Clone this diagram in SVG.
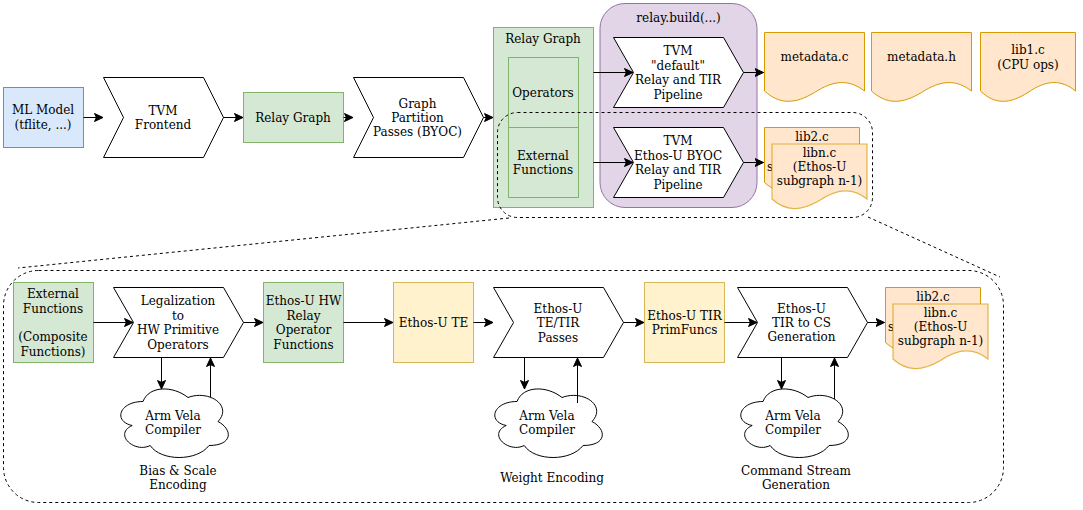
<svg xmlns="http://www.w3.org/2000/svg" xmlns:xlink="http://www.w3.org/1999/xlink" width="1083" height="510" viewBox="0 0 1083 510">
<style>
text{font-family:"DejaVu Serif",serif;font-size:12px;fill:#000;text-anchor:middle}
.g{fill:#d5e8d4;stroke:#82b366}
.b{fill:#dae8fc;stroke:#6c8ebf}
.y{fill:#fff2cc;stroke:#d6b656}
.p{fill:#e1d5e7;stroke:#9673a6}
.o{fill:#ffe6cc;stroke:#d79b00}
.o2{fill:#ffe6cc;stroke:#d79b00;stroke-opacity:.7;stroke-width:1.2}
.s{fill:#fff;stroke:#000}
.c{fill:#fff;stroke:#000}
.l{fill:none;stroke:#000;marker-end:url(#a)}
.d{fill:none;stroke:#000;stroke-dasharray:3 3}
</style>
<defs>
<marker id="a" markerUnits="userSpaceOnUse" markerWidth="11" markerHeight="11" refX="9" refY="4.500" orient="auto"><path d="M0.500 0.500L9 4.500L0.500 8.500L2.400 4.500Z" fill="#000" stroke="#000"/></marker>
<path id="cloud" d="M30 20C6 20 0 40 19.200 44C0 52.800 21.600 72 37.200 64C48 80 84 80 96 64C120 64 120 48 105 40C120 24 96 8 75 16C60 4 36 4 30 20Z"/>
<path id="doc100" d="M0 0H100V58.500C85 47 70 47 50 60C30 72 15 72 0 58.500Z"/>
<path id="doc95t" d="M0 0H95V58.500C81 47 66 47 47.500 60C28.500 72 14 72 0 58.500Z"/>
<path id="doc95" d="M0 0H95V55C81 43.500 66 43.500 47.500 56.500C28.500 67.500 14 67.500 0 55Z"/>
</defs>
<g id="zoom-outlines">
<rect class="d" x="3.500" y="270.500" width="1000" height="232" rx="35"/>
</g>
<g id="n-ml"><rect class="b" x="3.500" y="87.500" width="80" height="60"/><text x="43" y="114">ML Model</text><text x="43" y="128.500">(tflite, ...)</text></g>
<g id="n-frontend"><path class="s" d="M103.500 77.500H203.500L223.500 117.500L203.500 157.500H103.500L123.500 117.500Z"/><text x="163" y="115">TVM</text><text x="163" y="129">Frontend</text></g>
<g id="n-relay1"><rect class="g" x="243.500" y="92.500" width="100" height="50"/><text x="293" y="121.500">Relay Graph</text></g>
<g id="n-partition"><path class="s" d="M353.500 77.500H463.500L483.500 117.500L463.500 157.500H353.500L373.500 117.500Z"/><text x="417.500" y="107.500">Graph</text><text x="417.500" y="122">Partition</text><text x="417.500" y="136">Passes (BYOC)</text></g>
<g id="n-relay2"><rect class="g" x="493.500" y="27.500" width="100" height="180"/><text x="543" y="43">Relay Graph</text></g>
<g id="n-operators"><rect class="g" x="508.500" y="57.500" width="70" height="70"/><text x="543" y="97">Operators</text></g>
<g id="n-external"><rect class="g" x="508.500" y="127.500" width="70" height="70"/><text x="543" y="160">External</text><text x="543" y="174">Functions</text></g>
<g id="n-build"><rect class="p" x="600" y="3.500" width="157" height="204" rx="25"/><text x="678.500" y="22">relay.build(...)</text></g>
<g id="n-default"><path class="s" d="M613.500 37.500H723.500L743.500 72.500L723.500 107.500H613.500L633.500 72.500Z"/><text x="678" y="55">TVM</text><text x="678" y="69.500">"default"</text><text x="678" y="84">Relay and TIR</text><text x="678" y="98.500">Pipeline</text></g>
<g id="n-byoc"><path class="s" d="M613.500 127.500H723.500L743.500 162.500L723.500 197.500H613.500L633.500 162.500Z"/><text x="678" y="145">TVM</text><text x="678" y="159.500">Ethos-U BYOC</text><text x="678" y="174">Relay and TIR</text><text x="678" y="188.500">Pipeline</text></g>
<g id="n-metac"><use href="#doc100" class="o" x="764.500" y="32.500"/><text x="814.500" y="61">metadata.c</text></g>
<g id="n-metah"><use href="#doc100" class="o" x="871.500" y="32.500"/><text x="921.500" y="61">metadata.h</text></g>
<g id="n-lib1"><use href="#doc95t" class="o" x="980.500" y="32.500"/><text x="1028" y="54">lib1.c</text><text x="1028" y="68.500">(CPU ops)</text></g>
<g id="n-lib2"><use href="#doc95" class="o" x="764.500" y="127.500"/><text x="812" y="141">lib2.c</text><text x="770" y="171">s</text></g>
<g id="n-libn"><use href="#doc95" class="o2" x="772" y="144"/><text x="819.500" y="157">libn.c</text><text x="819.500" y="171">(Ethos-U</text><text x="819.500" y="185">subgraph n-1)</text></g>
<g id="n-ext2"><rect class="g" x="13.500" y="282.500" width="80" height="80"/><text x="53" y="298">External</text><text x="53" y="312.500">Functions</text><text x="53" y="341">(Composite</text><text x="53" y="355.500">Functions)</text></g>
<g id="n-legal"><path class="s" d="M113.500 287.500H223.500L243.500 322.500L223.500 357.500H113.500L133.500 322.500Z"/><text x="178" y="305">Legalization</text><text x="178" y="319.500">to</text><text x="178" y="334">HW Primitive</text><text x="178" y="348.500">Operators</text></g>
<g id="n-hw"><rect class="g" x="263.500" y="282.500" width="80" height="80"/><text x="303.500" y="305">Ethos-U HW</text><text x="303.500" y="319.500">Relay</text><text x="303.500" y="334">Operator</text><text x="303.500" y="348.500">Functions</text></g>
<g id="n-te"><rect class="y" x="393.500" y="282.500" width="80" height="80"/><text x="433.500" y="327">Ethos-U TE</text></g>
<g id="n-tetir"><path class="s" d="M493.500 287.500H603.500L623.500 322.500L603.500 357.500H493.500L513.500 322.500Z"/><text x="558" y="312.500">Ethos-U</text><text x="558" y="327">TE/TIR</text><text x="558" y="341.500">Passes</text></g>
<g id="n-prim"><rect class="y" x="644.500" y="282.500" width="80" height="80"/><text x="684.500" y="319.500">Ethos-U TIR</text><text x="684.500" y="334">PrimFuncs</text></g>
<g id="n-cs"><path class="s" d="M737.500 287.500H847.500L867.500 322.500L847.500 357.500H737.500L757.500 322.500Z"/><text x="801.500" y="312.500">Ethos-U</text><text x="801.500" y="327">TIR to CS</text><text x="801.500" y="341">Generation</text></g>
<g id="n-lib2b"><use href="#doc95" class="o" x="885.500" y="287.500"/><text x="933" y="301">lib2.c</text><text x="891" y="331">s</text></g>
<g id="n-libnb"><use href="#doc95" class="o2" x="893" y="304"/><text x="940.500" y="317">libn.c</text><text x="940.500" y="331">(Ethos-U</text><text x="940.500" y="345">subgraph n-1)</text></g>
<g id="n-cloud1"><use href="#cloud" class="c" x="113" y="381.500"/><text x="173" y="420">Arm Vela</text><text x="173" y="434">Compiler</text></g>
<g id="n-cloud2"><use href="#cloud" class="c" x="487" y="381.500"/><text x="547" y="420">Arm Vela</text><text x="547" y="434">Compiler</text></g>
<g id="n-cloud3"><use href="#cloud" class="c" x="733" y="381.500"/><text x="793" y="420">Arm Vela</text><text x="793" y="434">Compiler</text></g>
<g id="labels"><text x="178" y="475">Bias &amp; Scale</text><text x="178" y="489">Encoding</text><text x="552" y="482">Weight Encoding</text><text x="796" y="475">Command Stream</text><text x="796" y="489">Generation</text></g>
<g id="connectors">
<path class="l" d="M83.500 117.500H103"/>
<path class="l" d="M223.500 117.500H243"/>
<path class="l" d="M343.500 117.500H353"/>
<path class="l" d="M483.500 117.500H493"/>
<path class="l" d="M593.500 72.500H633"/>
<path class="l" d="M593.500 162.500H633"/>
<path class="l" d="M743.500 72.500H763.500"/>
<path class="l" d="M743.500 162.500H763.500"/>
<path class="l" d="M93.500 322.500H133"/>
<path class="l" d="M243.500 322.500H263"/>
<path class="l" d="M343.500 322.500H393"/>
<path class="l" d="M473.500 322.500H493"/>
<path class="l" d="M623.500 322.500H644"/>
<path class="l" d="M724.500 322.500H757"/>
<path class="l" d="M867.500 322.500H884.500"/>
<path class="l" d="M161.500 357.500V389"/>
<path class="l" d="M210.500 397V358"/>
<path class="l" d="M524.500 357.500V389"/>
<path class="l" d="M577.500 403V358"/>
<path class="l" d="M781.500 357.500V389"/>
<path class="l" d="M834.500 399V358"/>
<rect class="d" x="497.500" y="112.500" width="375" height="105" rx="20"/>
<path class="d" d="M509 218L18 268"/>
<path class="d" d="M868 217L1000 277"/>
</g>
</svg>
